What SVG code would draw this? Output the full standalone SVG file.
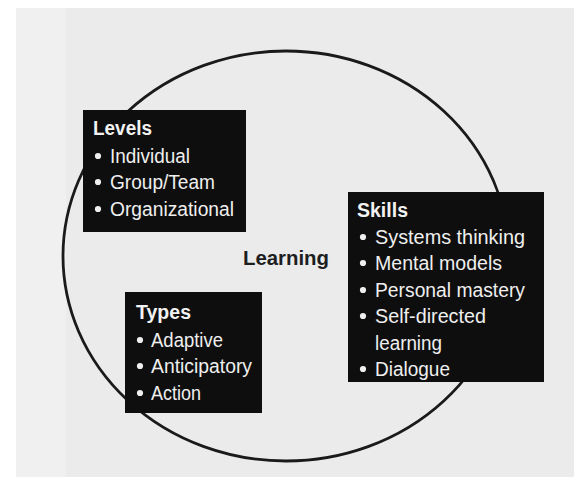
<svg xmlns="http://www.w3.org/2000/svg" width="574" height="477" viewBox="0 0 574 477">
  <style>
    .box { fill: #0e0e0e; }
    .head { font-family: "Liberation Sans", Arial, sans-serif; font-weight: bold; font-size: 20px; fill: #f2f2f2; }
    .item { font-family: "Liberation Sans", Arial, sans-serif; font-size: 20px; fill: #efefef; }
    .dot { fill: #efefef; }
    .ring { fill: none; stroke: #1a1a1a; stroke-width: 2.8; }
    .center { font-family: "Liberation Sans", Arial, sans-serif; font-weight: bold; font-size: 21px; fill: #1e1e1e; }
  </style>

  <!-- paper -->
  <rect x="0" y="0" width="574" height="477" fill="#ffffff"/>
  <rect x="16" y="8" width="558" height="469" fill="#ebebeb"/>
  <rect x="16" y="8" width="50" height="469" fill="#f0f0f0"/>

  <!-- ring linking the three groups -->
  <g id="connectors">
    <ellipse class="ring" cx="286" cy="256" rx="223" ry="205"/>
  </g>

  <!-- centre label -->
  <g id="learning">
    <text class="center" x="243" y="265" textLength="86" lengthAdjust="spacingAndGlyphs">Learning</text>
  </g>

  <!-- Levels -->
  <g id="levels">
    <rect class="box" x="83" y="110" width="163" height="122"/>
    <text class="head" x="93" y="135" textLength="59" lengthAdjust="spacingAndGlyphs">Levels</text>
    <circle class="dot" cx="98" cy="156" r="3.1"/>
    <text class="item" x="110" y="163" textLength="80" lengthAdjust="spacingAndGlyphs">Individual</text>
    <circle class="dot" cx="98" cy="182" r="3.1"/>
    <text class="item" x="110" y="189" textLength="105" lengthAdjust="spacingAndGlyphs">Group/Team</text>
    <circle class="dot" cx="98" cy="209" r="3.1"/>
    <text class="item" x="110" y="216" textLength="124" lengthAdjust="spacingAndGlyphs">Organizational</text>
  </g>

  <!-- Skills -->
  <g id="skills">
    <rect class="box" x="348" y="192" width="196" height="190"/>
    <text class="head" x="357" y="217" textLength="51" lengthAdjust="spacingAndGlyphs">Skills</text>
    <circle class="dot" cx="363" cy="237" r="3.1"/>
    <text class="item" x="375" y="244" textLength="150" lengthAdjust="spacingAndGlyphs">Systems thinking</text>
    <circle class="dot" cx="363" cy="263" r="3.1"/>
    <text class="item" x="375" y="270" textLength="127" lengthAdjust="spacingAndGlyphs">Mental models</text>
    <circle class="dot" cx="363" cy="290" r="3.1"/>
    <text class="item" x="375" y="297" textLength="150" lengthAdjust="spacingAndGlyphs">Personal mastery</text>
    <circle class="dot" cx="363" cy="316" r="3.1"/>
    <text class="item" x="375" y="323" textLength="111" lengthAdjust="spacingAndGlyphs">Self-directed</text>
    <text class="item" x="375" y="350" textLength="67" lengthAdjust="spacingAndGlyphs">learning</text>
    <circle class="dot" cx="363" cy="369" r="3.1"/>
    <text class="item" x="375" y="376" textLength="75" lengthAdjust="spacingAndGlyphs">Dialogue</text>
  </g>

  <!-- Types -->
  <g id="types">
    <rect class="box" x="125" y="292" width="137" height="121"/>
    <text class="head" x="136" y="319" textLength="55" lengthAdjust="spacingAndGlyphs">Types</text>
    <circle class="dot" cx="140" cy="340" r="3.1"/>
    <text class="item" x="151" y="347" textLength="72" lengthAdjust="spacingAndGlyphs">Adaptive</text>
    <circle class="dot" cx="140" cy="366" r="3.1"/>
    <text class="item" x="151" y="373" textLength="101" lengthAdjust="spacingAndGlyphs">Anticipatory</text>
    <circle class="dot" cx="140" cy="393" r="3.1"/>
    <text class="item" x="151" y="400" textLength="50" lengthAdjust="spacingAndGlyphs">Action</text>
  </g>
</svg>
